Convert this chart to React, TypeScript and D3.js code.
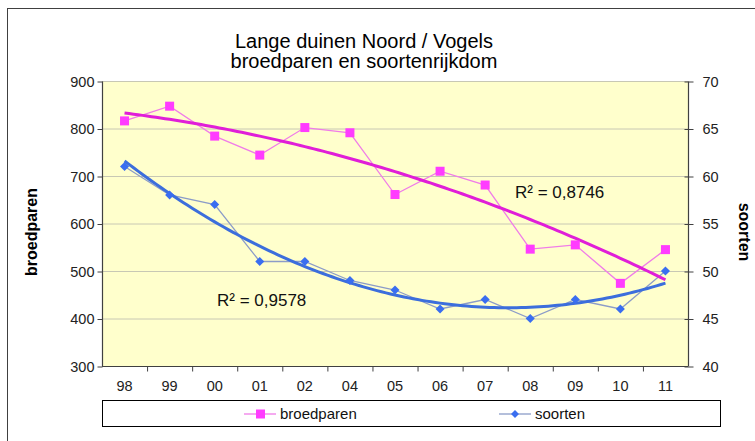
import React, { useEffect, useRef } from 'react';
import * as d3 from 'd3';

// jaren (categorieen)
const jaren = ['98', '99', '00', '01', '02', '04', '05', '06', '07', '08', '09', '10', '11'];
// broedparen (linker as)
const broedparen = [816, 847, 784, 744, 802, 791, 661, 710, 681, 546, 555, 474, 545];
// soorten (rechter as)
const soorten = [61, 58, 57, 51, 51, 49, 48, 46, 47, 45, 47, 46, 50];

const ticksLinks = [300, 400, 500, 600, 700, 800, 900];
const ticksRechts = [40, 45, 50, 55, 60, 65, 70];

const r2Broed = 'R² = 0,8746';
const r2Soorten = 'R² = 0,9578';

// kwadratische trendlijn (kleinste kwadraten)
const fitQuad = (ys: number[]) => {
  let s0 = 0, s1 = 0, s2 = 0, s3 = 0, s4 = 0, t0 = 0, t1 = 0, t2 = 0;
  ys.forEach((y, i) => {
    const x = i + 1;
    s0 += 1; s1 += x; s2 += x * x; s3 += x ** 3; s4 += x ** 4;
    t0 += y; t1 += x * y; t2 += x * x * y;
  });
  const M = [
    [s0, s1, s2, t0],
    [s1, s2, s3, t1],
    [s2, s3, s4, t2],
  ];
  for (let c = 0; c < 3; c++) {
    for (let r = c + 1; r < 3; r++) {
      const f = M[r][c] / M[c][c];
      for (let k = c; k < 4; k++) M[r][k] -= f * M[c][k];
    }
  }
  const b = [0, 0, 0];
  for (let r = 2; r >= 0; r--) {
    let s = M[r][3];
    for (let k = r + 1; k < 3; k++) s -= M[r][k] * b[k];
    b[r] = s / M[r][r];
  }
  return (x: number) => b[0] + b[1] * x + b[2] * x * x;
};

const App = () => {
  const ref = useRef<SVGSVGElement>(null);

  useEffect(() => {
    const svg = d3.select(ref.current);
    svg.selectAll('*').remove();
    const font = 'Liberation Sans, Arial, sans-serif';

    const left = 102, right = 688, top = 81, bottom = 366;

    const x = d3.scaleBand().domain(jaren).range([left, right]);
    const cx = (d: string) => (x(d) as number) + x.bandwidth() / 2;
    const yL = d3.scaleLinear().domain([300, 900]).range([bottom, top]);
    const yR = d3.scaleLinear().domain([40, 70]).range([bottom, top]);

    // achtergrond + kader
    svg.append('rect').attr('width', 755).attr('height', 441).attr('fill', '#fff');
    svg.append('rect').attr('x', 7.5).attr('y', 8.5).attr('width', 760).attr('height', 450)
      .attr('fill', 'none').attr('stroke', '#404040').attr('stroke-width', 1);

    // titel
    const titel = svg.append('text').attr('text-anchor', 'middle').attr('font-family', font)
      .attr('font-size', 20).attr('fill', '#000');
    titel.append('tspan').attr('x', 364).attr('y', 48).text('Lange duinen Noord / Vogels');
    titel.append('tspan').attr('x', 364).attr('y', 68).text('broedparen en soortenrijkdom');

    // plotgebied
    svg.append('rect').attr('x', left).attr('y', top).attr('width', right - left).attr('height', bottom - top)
      .attr('fill', '#FFFFCC');

    // rasterlijnen
    svg.append('g').selectAll('line').data(ticksLinks.filter(t => t > 300)).enter().append('line')
      .attr('x1', left).attr('x2', right)
      .attr('y1', d => yL(d) + 0.5).attr('y2', d => yL(d) + 0.5)
      .attr('stroke', '#C8C8B4').attr('stroke-width', 1);

    // linker as
    const axL = svg.append('g').attr('transform', `translate(${left + 0.5},0.5)`)
      .call(d3.axisLeft(yL).tickValues(ticksLinks).tickSize(5).tickPadding(3));
    // rechter as
    const axR = svg.append('g').attr('transform', `translate(${right + 0.5},0.5)`)
      .call(d3.axisRight(yR).tickValues(ticksRechts).tickSize(5).tickPadding(9));
    axR.selectAll('.tick line').attr('x1', -4);
    // x-as
    const axX = svg.append('g').attr('transform', `translate(0,${bottom + 0.5})`)
      .call(d3.axisBottom(x).tickSize(0).tickPadding(14));
    axX.selectAll('.tick line').remove();
    axX.append('g').selectAll('line').data(jaren.slice(1)).enter().append('line')
      .attr('x1', d => (x(d) as number) + 0.5).attr('x2', d => (x(d) as number) + 0.5)
      .attr('y1', 0).attr('y2', 5).attr('stroke', '#404040');

    [axL, axR, axX].forEach(ax => {
      ax.select('.domain').attr('stroke', '#404040').attr('stroke-width', 1.2);
      ax.selectAll('.tick line').attr('stroke', '#404040');
      ax.selectAll('text').attr('font-family', font).attr('font-size', 14.5).attr('fill', '#222');
    });
    axL.select('.domain').attr('d', `M0,${top}V${bottom}`);
    axR.select('.domain').attr('d', `M0,${top}V${bottom}`);
    axX.select('.domain').attr('d', `M${left},0H${right}`);

    // astitels
    svg.append('text').attr('transform', `translate(37,232) rotate(-90)`)
      .attr('text-anchor', 'middle').attr('font-family', font).attr('font-size', 16)
      .attr('font-weight', 'bold').text('broedparen');
    svg.append('text').attr('transform', `translate(739,232) rotate(90)`)
      .attr('text-anchor', 'middle').attr('font-family', font).attr('font-size', 16)
      .attr('font-weight', 'bold').text('soorten');

    // dunne lijnen
    const lineL = d3.line<number>().x((d, i) => cx(jaren[i])).y(d => yL(d));
    const lineR = d3.line<number>().x((d, i) => cx(jaren[i])).y(d => yR(d));
    svg.append('path').datum(broedparen).attr('d', lineL).attr('fill', 'none')
      .attr('stroke', '#F07CE8').attr('stroke-width', 1.3);
    svg.append('path').datum(soorten).attr('d', lineR).attr('fill', 'none')
      .attr('stroke', '#8C9CC8').attr('stroke-width', 1.3);

    // trendlijnen
    const fL = fitQuad(broedparen);
    const fR = fitQuad(soorten);
    const steps = d3.range(0, 12.01, 0.1);
    const xi = d3.scaleLinear().domain([0, 12]).range([cx(jaren[0]), cx(jaren[12])]);
    svg.append('path').datum(steps)
      .attr('d', d3.line<number>().x(t => xi(t)).y(t => yL(fL(t + 1))))
      .attr('fill', 'none').attr('stroke', '#E01ED8').attr('stroke-width', 3);
    svg.append('path').datum(steps)
      .attr('d', d3.line<number>().x(t => xi(t)).y(t => yR(fR(t + 1))))
      .attr('fill', 'none').attr('stroke', '#3C6EDC').attr('stroke-width', 3);

    // markers
    svg.append('g').selectAll('rect').data(broedparen).enter().append('rect')
      .attr('x', (d, i) => cx(jaren[i]) - 4.5).attr('y', d => yL(d) - 4.5)
      .attr('width', 9).attr('height', 9).attr('fill', '#FF3CFF');
    const diamant = d3.symbol().type(d3.symbolDiamond2).size(52);
    svg.append('g').selectAll('path').data(soorten).enter().append('path')
      .attr('transform', (d, i) => `translate(${cx(jaren[i])},${yR(d)})`)
      .attr('d', diamant).attr('fill', '#3A6EF0');

    // R² labels
    svg.append('text').attr('x', 515).attr('y', 198).attr('font-family', font).attr('font-size', 17)
      .attr('fill', '#111').text(r2Broed);
    svg.append('text').attr('x', 217).attr('y', 306).attr('font-family', font).attr('font-size', 17)
      .attr('fill', '#111').text(r2Soorten);

    // legenda
    svg.append('rect').attr('x', 102.5).attr('y', 400.5).attr('width', 618).attr('height', 26)
      .attr('fill', '#fff').attr('stroke', '#000').attr('stroke-width', 1);
    const legenda = [
      { label: 'broedparen', kleur: '#F07CE8', marker: '#FF3CFF', x: 244, vierkant: true },
      { label: 'soorten', kleur: '#8C9CC8', marker: '#3A6EF0', x: 499, vierkant: false },
    ];
    const li = svg.append('g').selectAll('g').data(legenda).enter().append('g')
      .attr('transform', d => `translate(${d.x},414)`);
    li.append('line').attr('x1', 0).attr('x2', 32).attr('stroke', d => d.kleur).attr('stroke-width', 1.3);
    li.filter(d => d.vierkant).append('rect').attr('x', 12).attr('y', -4.5).attr('width', 9).attr('height', 9)
      .attr('fill', d => d.marker);
    li.filter(d => !d.vierkant).append('path').attr('transform', 'translate(16,0)')
      .attr('d', d3.symbol().type(d3.symbolDiamond2).size(40)).attr('fill', d => d.marker);
    li.append('text').attr('x', 36).attr('dy', '0.35em').attr('font-family', font).attr('font-size', 15)
      .attr('fill', '#111').text(d => d.label);
  }, []);

  return (
    <svg ref={ref} width={755} height={441}
      style={{ position: 'absolute', left: 0, top: 0, display: 'block' }} />
  );
};

export default App;
